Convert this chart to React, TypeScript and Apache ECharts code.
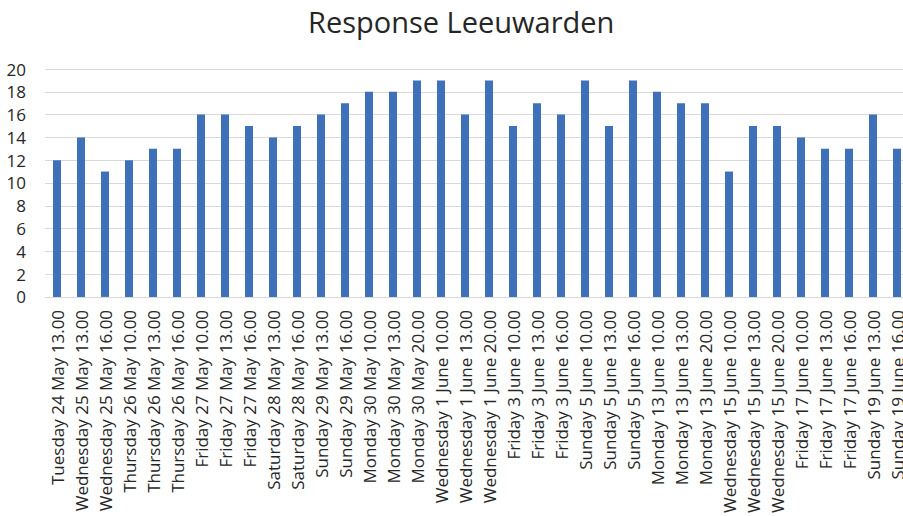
import React, { useEffect, useRef } from "react";
import * as echarts from "echarts";

const categories: string[] = [
  "Tuesday 24 May 13.00",
  "Wednesday 25 May 13.00",
  "Wednesday 25 May 16.00",
  "Thursday 26 May 10.00",
  "Thursday 26 May 13.00",
  "Thursday 26 May 16.00",
  "Friday 27 May 10.00",
  "Friday 27 May 13.00",
  "Friday 27 May 16.00",
  "Saturday 28 May 13.00",
  "Saturday 28 May 16.00",
  "Sunday 29 May 13.00",
  "Sunday 29 May 16.00",
  "Monday 30 May 10.00",
  "Monday 30 May 13.00",
  "Monday 30 May 20.00",
  "Wednesday 1 June 10.00",
  "Wednesday 1 June 13.00",
  "Wednesday 1 June 20.00",
  "Friday 3 June 10.00",
  "Friday 3 June 13.00",
  "Friday 3 June 16.00",
  "Sunday 5 June 10.00",
  "Sunday 5 June 13.00",
  "Sunday 5 June 16.00",
  "Monday 13 June 10.00",
  "Monday 13 June 13.00",
  "Monday 13 June 20.00",
  "Wednesday 15 June 10.00",
  "Wednesday 15 June 13.00",
  "Wednesday 15 June 20.00",
  "Friday 17 June 10.00",
  "Friday 17 June 13.00",
  "Friday 17 June 16.00",
  "Sunday 19 June 13.00",
  "Sunday 19 June 16.00",
];

const responses: number[] = [
  12, 14, 11, 12, 13, 13, 16, 16, 15, 14, 15, 16, 17, 18, 18, 19, 19, 16, 19,
  15, 17, 16, 19, 15, 19, 18, 17, 17, 11, 15, 15, 14, 13, 13, 16, 13,
];

const yMin = 0;
const yMax = 20;
const yInterval = 2;

const FONT = "Open Sans";

export default function App() {
  const ref = useRef<HTMLDivElement>(null);
  useEffect(() => {
    if (!ref.current) return;
    const chart = echarts.init(ref.current, undefined, { renderer: "svg" });
    chart.setOption({
      animation: false,
      backgroundColor: "#ffffff",
      title: {
        text: "Response Leeuwarden",
        left: 303,
        top: 2,
        textStyle: {
          fontFamily: FONT,
          fontSize: 29,
          fontWeight: "normal",
          color: "#262626",
        },
      },
      grid: {
        left: 45,
        right: 0,
        top: 69,
        bottom: 219,
        containLabel: false,
      },
      xAxis: {
        type: "category",
        data: categories,
        axisTick: { show: false },
        axisLine: { lineStyle: { color: "#d9d9d9", width: 1 } },
        axisLabel: {
          interval: 0,
          rotate: 90,
          margin: 13,
          fontFamily: FONT,
          fontSize: 17,
          color: "#262626",
        },
      },
      yAxis: {
        type: "value",
        min: yMin,
        max: yMax,
        interval: yInterval,
        axisLine: { show: false },
        axisTick: { show: false },
        splitLine: { lineStyle: { color: "#d9d9d9", width: 1 } },
        axisLabel: {
          margin: 19,
          fontFamily: FONT,
          fontSize: 17,
          color: "#262626",
        },
      },
      series: [
        {
          type: "bar",
          data: responses,
          barWidth: 8,
          itemStyle: { color: "#3F71BA" },
        },
      ],
    });
    return () => chart.dispose();
  }, []);
  return (
    <div
      style={{
        position: "absolute",
        left: 0,
        top: 0,
        width: 903,
        height: 516,
        overflow: "hidden",
        background: "#ffffff",
      }}
    >
      <div ref={ref} style={{ width: 909, height: 516 }} />
    </div>
  );
}
